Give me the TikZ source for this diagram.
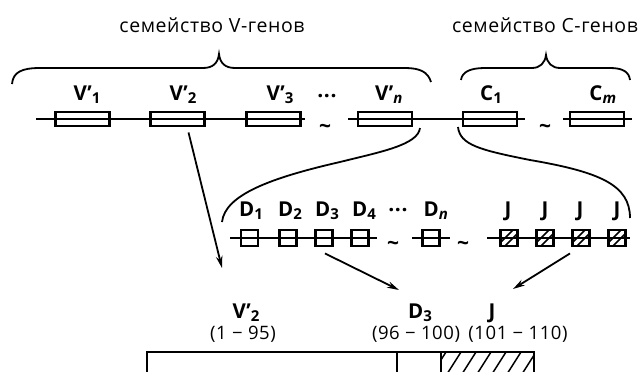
\documentclass[tikz,border=0pt]{standalone}
\usepackage{fontspec}
\setmainfont{Open Sans}[LetterSpace=3]
\usetikzlibrary{arrows.meta,calc}
% lowered index for gene names
\newcommand\gidx[1]{\raisebox{-0.16em}{\fontsize{15}{16}\selectfont #1}}
% straight prime mark
\newcommand\pr{\char"0027\relax}

\begin{document}
\begin{tikzpicture}[x=1pt,y=-1pt,
  title/.style={font=\fontsize{19.5}{22}\selectfont, inner sep=0pt, anchor=base},
  lab/.style={font=\fontsize{20.5}{22}\selectfont\bfseries, inner sep=0pt, anchor=base},
  num/.style={font=\fontsize{18.5}{22}\selectfont, inner sep=0pt, anchor=base},
  tl/.style={font=\fontsize{21}{22}\selectfont\bfseries, inner sep=0pt},
  chrom/.style={line width=2.5pt},
  brace/.style={line width=1.8pt},
  vbox/.style={draw, line width=2.9pt, minimum width=54pt, minimum height=14pt, inner sep=0pt},
  dbox/.style={draw, line width=2.9pt, minimum width=17pt, minimum height=16pt, inner sep=0pt},
  jbox/.style={dbox, path picture={
      \foreach \d in {-4,4}
        \draw[line width=1.5pt] (path picture bounding box.center) ++(\d pt-9pt,-9pt) -- ++(18pt,18pt);}},
  arr/.style={line width=1.8pt, -{Stealth[length=12pt,width=6.5pt]}}
]
\useasboundingbox (0,0) rectangle (638,372);
\clip (0,0) rectangle (638,372);

% family titles
\node[title] (tv) at (212,32) {семейство V-генов};
\node[title] (tc) at (545,32) {семейство C-генов};

% braces over the families
\draw[brace] (12,84) .. controls (13,72) and (22,68) .. (40,68) -- (203,68)
  .. controls (213,68) and (218,63) .. (219,54) .. controls (220,63) and (225,68) .. (235,68)
  -- (405,68) .. controls (420,68) and (428,72) .. (431,82);
\draw[brace] (461,80) .. controls (462,72) and (470,68) .. (485,68) -- (532,68)
  .. controls (540,68) and (545,63) .. (546,55) .. controls (547,63) and (552,68) .. (560,68)
  -- (610,68) .. controls (623,68) and (629,72) .. (630,80);

% germline V and C segments
\draw[chrom] (36,119) -- (305,119);
\draw[chrom] (348,119) -- (525,119);
\draw[chrom] (563,119) -- (632,119);
\node[vbox] (v1) at (82.5,119) {};
\node[vbox] (v2) at (177.5,119) {};
\node[vbox] (v3) at (273.5,119) {};
\node[vbox] (vn) at (385,119) {};
\node[vbox] (c1) at (490,119) {};
\node[vbox] (cm) at (597,119) {};

\node[lab] (lv1) at (87,100) {V\pr\gidx{1}};
\node[lab] (lv2) at (183,100) {V\pr\gidx{2}};
\node[lab] (lv3) at (280,100) {V\pr\gidx{3}};
\node[tl] (dotsv) at (327,96) {...};
\node[tl] (tilv) at (325,129) {\textasciitilde};
\node[lab] (lvn) at (389,100) {V\pr\gidx{\textit{n}}};
\node[lab] (lc1) at (491,100) {C\gidx{1}};
\node[tl] (tilc) at (545,129) {\textasciitilde};
\node[lab] (lcm) at (603,100) {C\gidx{\textit{m}}};

% curves opening onto the D and J region
\draw[brace] (420,128) .. controls (418,145) and (380,152) .. (340,162)
  .. controls (270,178) and (225,195) .. (222,222);
\draw[brace] (458,127) .. controls (460,145) and (480,150) .. (530,160)
  .. controls (600,172) and (630,185) .. (630,218);

% D and J segments
\draw[chrom] (230,238) -- (377,238);
\draw[chrom] (412,238) -- (450,238);
\draw[chrom] (487,238) -- (630,238);
\node[dbox] (d1) at (249.5,238) {};
\node[dbox] (d2) at (288,238) {};
\node[dbox] (d3) at (324,238) {};
\node[dbox] (d4) at (360,238) {};
\node[dbox] (dn) at (431,238) {};
\node[jbox] (j1) at (509,238) {};
\node[jbox] (j2) at (545,238) {};
\node[jbox] (j3) at (581,238) {};
\node[jbox] (j4) at (617,238) {};
\node[tl] (tild1) at (393,246) {\textasciitilde};
\node[tl] (tild2) at (463,246) {\textasciitilde};

\node[lab] (ld1) at (251,216) {D\gidx{1}};
\node[lab] (ld2) at (290,216) {D\gidx{2}};
\node[lab] (ld3) at (327,216) {D\gidx{3}};
\node[lab] (ld4) at (364,216) {D\gidx{4}};
\node[tl] (dotsd) at (398,210) {...};
\node[lab] (ldn) at (436,216) {D\gidx{\textit{n}}};
\node[lab] (lj1) at (508,216) {J};
\node[lab] (lj2) at (545,216) {J};
\node[lab] (lj3) at (580,216) {J};
\node[lab] (lj4) at (617,216) {J};

% rearranged gene
\coordinate (av) at (222,268);
\coordinate (ad) at (399,290);
\coordinate (aj) at (513,289);
\draw[arr] ($(v2.south)+(11,5)$) -- (av);
\draw[arr] ($(d3.south)+(1,6)$) -- (ad);
\draw[arr] ($(j3.south)+(-11,6)$) -- (aj);

\node[lab] (bv) at (246,318) {V\pr\gidx{2}};
\node[num] (nv) at (243,339) {(1 − 95)};
\node[lab] (bd) at (420,318) {D\gidx{3}};
\node[num] (nd) at (416,339) {(96 − 100)};
\node[lab] (bj) at (492,318) {J};
\node[num] (nj) at (518,339) {(101 − 110)};

\begin{scope}
  \clip (441,352) rectangle (534,385);
  \foreach \x in {425,440,...,540}
    \draw[line width=1.5pt] (\x,385) -- (\x+21,352);
\end{scope}
\draw[line width=2.6pt] (147,385) -- (147,352) -- (534,352) -- (534,385);
\draw[line width=2.6pt] (397,352) -- (397,385);
\draw[line width=2.6pt] (441,352) -- (441,385);
\draw[line width=1pt, black!25] (147,372) -- (534,372);
\end{tikzpicture}
\end{document}
